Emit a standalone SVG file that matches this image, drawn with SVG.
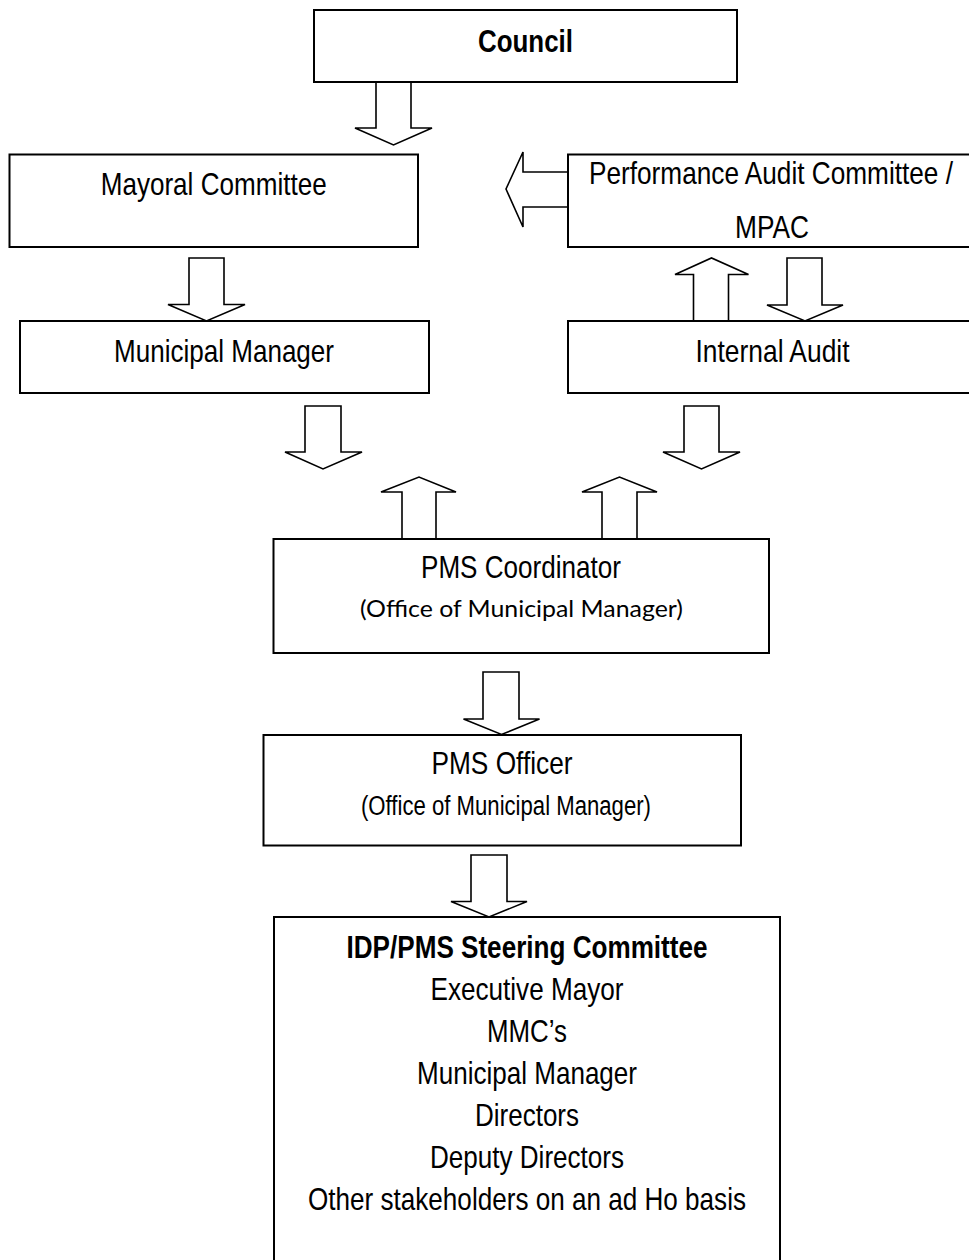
<svg xmlns="http://www.w3.org/2000/svg" width="969" height="1260" viewBox="0 0 969 1260">
<style>
.box{fill:#fff;stroke:#000;stroke-width:2}
.arr{fill:#fff;stroke:#000;stroke-width:1.6;stroke-linejoin:miter}
.t{font-family:"Liberation Sans Narrow","Liberation Sans",Arial,sans-serif;font-size:32px;fill:#000;text-anchor:middle}
.b{font-weight:bold}
.s{font-size:27px}
.c{font-family:Lato,"Open Sans",sans-serif;font-size:24px;fill:#000;text-anchor:middle}
</style>
<rect width="969" height="1260" fill="#fff"/>
<g id="connectors">
<polygon class="arr" points="376,82 411,82 411,128 432,128 393.5,145 355,128 376,128"/>
<polygon class="arr" points="189,258 224,258 224,304.5 245,304.5 206.5,321 168,304.5 189,304.5"/>
<polygon class="arr" points="568,172 523,172 523,152 506,189 523,227 523,207 568,207"/>
<polygon class="arr" points="693.5,321 693.5,274.5 675,274.5 711.5,258 748.5,274.5 728.5,274.5 728.5,321"/>
<polygon class="arr" points="787,258 822,258 822,305 843,305 805,321 767,305 787,305"/>
<polygon class="arr" points="305,406 341,406 341,452 362,452 323,469 285,452 305,452"/>
<polygon class="arr" points="684,406 719,406 719,452 740,452 701.5,469 663,452 684,452"/>
<polygon class="arr" points="402,539 402,492 381,492 419,477 456,492 436,492 436,539"/>
<polygon class="arr" points="602,539 602,492 582,492 619.5,477 657,492 637,492 637,539"/>
<polygon class="arr" points="483,672 519,672 519,719 539.5,719 501.5,734.5 463.5,719 483,719"/>
<polygon class="arr" points="471,855 507,855 507,901.5 527,901.5 489,917 451,901.5 471,901.5"/>
</g>
<g id="council">
<rect class="box" x="314" y="10" width="423" height="72"/>
<text class="t b" x="525.5" y="52" textLength="95" lengthAdjust="spacingAndGlyphs">Council</text>
</g>
<g id="mayoral">
<rect class="box" x="9.5" y="154.5" width="408.5" height="92.5"/>
<text class="t" x="213.7" y="195" textLength="226" lengthAdjust="spacingAndGlyphs">Mayoral Committee</text>
</g>
<g id="pac">
<rect class="box" x="568" y="154.5" width="410" height="92.5"/>
<text class="t" x="771" y="184" textLength="364" lengthAdjust="spacingAndGlyphs">Performance Audit Committee /</text>
<text class="t" x="772" y="238" textLength="74" lengthAdjust="spacingAndGlyphs">MPAC</text>
</g>
<g id="municipal-manager">
<rect class="box" x="20" y="321" width="409" height="72"/>
<text class="t" x="224" y="361.5" textLength="220" lengthAdjust="spacingAndGlyphs">Municipal Manager</text>
</g>
<g id="internal-audit">
<rect class="box" x="568" y="321" width="410" height="72"/>
<text class="t" x="772.5" y="361.5" textLength="154" lengthAdjust="spacingAndGlyphs">Internal Audit</text>
</g>
<g id="pms-coordinator">
<rect class="box" x="273.5" y="539" width="495.5" height="114"/>
<text class="t" x="521" y="578" textLength="200" lengthAdjust="spacingAndGlyphs">PMS Coordinator</text>
<text class="c" x="521.5" y="617" textLength="323" lengthAdjust="spacingAndGlyphs">(Office of Municipal Manager)</text>
</g>
<g id="pms-officer">
<rect class="box" x="263.5" y="735" width="477.5" height="110.5"/>
<text class="t" x="502" y="774" textLength="141" lengthAdjust="spacingAndGlyphs">PMS Officer</text>
<text class="t s" x="506" y="815" textLength="290" lengthAdjust="spacingAndGlyphs">(Office of Municipal Manager)</text>
</g>
<g id="steering-committee">
<rect class="box" x="274" y="917" width="506" height="360"/>
<text class="t b" x="527" y="958" textLength="361" lengthAdjust="spacingAndGlyphs">IDP/PMS Steering Committee</text>
<text class="t" x="527" y="1000" textLength="193" lengthAdjust="spacingAndGlyphs">Executive Mayor</text>
<text class="t" x="527" y="1042" textLength="80" lengthAdjust="spacingAndGlyphs">MMC’s</text>
<text class="t" x="527" y="1084" textLength="220" lengthAdjust="spacingAndGlyphs">Municipal Manager</text>
<text class="t" x="527" y="1126" textLength="104" lengthAdjust="spacingAndGlyphs">Directors</text>
<text class="t" x="527" y="1168" textLength="194" lengthAdjust="spacingAndGlyphs">Deputy Directors</text>
<text class="t" x="527" y="1210" textLength="438" lengthAdjust="spacingAndGlyphs">Other stakeholders on an ad Ho basis</text>
</g>
</svg>
